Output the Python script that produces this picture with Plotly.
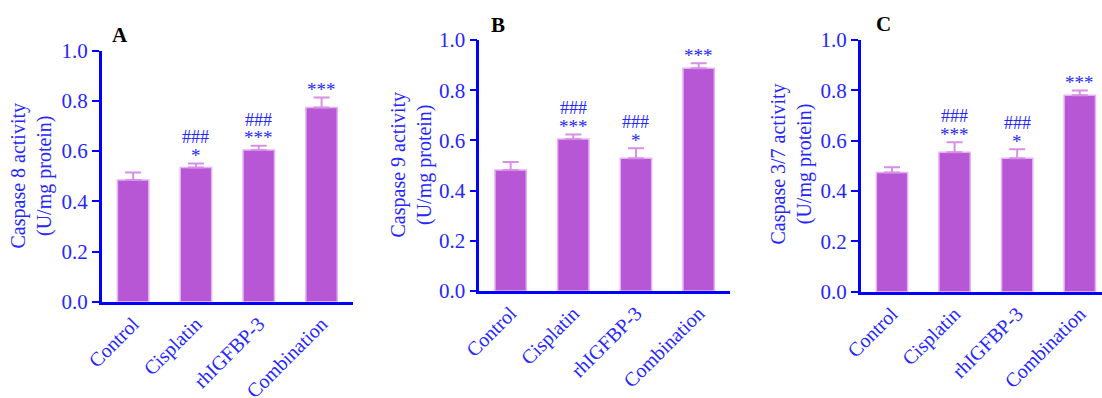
import plotly.graph_objects as go

# Treatment groups shared by all three panels
groups = ["Control", "Cisplatin", "rhIGFBP-3", "Combination"]

# Caspase 8 activity (U/mg protein): mean and SEM
casp8_mean = [0.485, 0.535, 0.604, 0.774]
casp8_sem = [0.030, 0.016, 0.017, 0.040]

# Caspase 9 activity (U/mg protein): mean and SEM
casp9_mean = [0.482, 0.606, 0.529, 0.887]
casp9_sem = [0.032, 0.018, 0.040, 0.020]

# Caspase 3/7 activity (U/mg protein): mean and SEM
casp37_mean = [0.474, 0.554, 0.530, 0.780]
casp37_sem = [0.020, 0.040, 0.036, 0.019]

# Significance marks: vs control (*) and vs combination (#)
casp8_star = ["", "*", "***", "***"]
casp8_hash = ["", "###", "###", ""]
casp9_star = ["", "***", "*", "***"]
casp9_hash = ["", "###", "###", ""]
casp37_star = ["", "***", "*", "***"]
casp37_hash = ["", "###", "###", ""]

W, H = 1102, 398
SERIF = "Liberation Serif, Times New Roman, serif"
BLUE_TXT = "#2626ff"
BLUE_AX = "#0000ff"
BAR_FILL = "#b857d6"
BAR_EDGE = "#e8b2f2"
ERR_COL = "#d690e4"


def px_x(v):
    return v / W


def px_y(v):
    return 1 - v / H


panels = [
    dict(mean=casp8_mean, sem=casp8_sem, star=casp8_star, hsh=casp8_hash,
         ytitle="Caspase 8 activity<br>(U/mg protein)", letter="A",
         dom_x=(101.7, 353.0), dom_y=(50.7, 301.7), xr=[-0.5, 3.5],
         title_pos=(30.5, 176), letter_pos=(120, 35)),
    dict(mean=casp9_mean, sem=casp9_sem, star=casp9_star, hsh=casp9_hash,
         ytitle="Caspase 9 activity<br>(U/mg protein)", letter="B",
         dom_x=(479.3, 730.0), dom_y=(40.0, 291.0), xr=[-0.5, 3.5],
         title_pos=(410.5, 164), letter_pos=(498, 25)),
    dict(mean=casp37_mean, sem=casp37_sem, star=casp37_star, hsh=casp37_hash,
         ytitle="Caspase 3/7 activity<br>(U/mg protein)", letter="C",
         dom_x=(860.7, 1102.0), dom_y=(40.0, 291.7), xr=[-0.5, 3.355],
         title_pos=(790.5, 164), letter_pos=(883, 24)),
]

fig = go.Figure()
annotations = []
layout_axes = {}

for k, p in enumerate(panels, start=1):
    sfx = "" if k == 1 else str(k)
    xa, ya = "x" + sfx, "y" + sfx
    fig.add_trace(go.Bar(
        x=groups, y=p["mean"], xaxis=xa, yaxis=ya, width=0.5,
        marker=dict(color=BAR_FILL, line=dict(color=BAR_EDGE, width=1.5)),
        error_y=dict(type="data", array=p["sem"], arrayminus=[0] * len(groups),
                     symmetric=False, color=ERR_COL, thickness=2, width=8),
        showlegend=False, cliponaxis=False,
    ))

    layout_axes["xaxis" + sfx] = dict(
        domain=[px_x(p["dom_x"][0]), px_x(p["dom_x"][1])], anchor=ya,
        type="category", range=p["xr"], showline=True, linecolor=BLUE_AX,
        linewidth=2.5, ticks="", tickangle=-45, showgrid=False, zeroline=False,
        automargin=False,
        tickfont=dict(family=SERIF, size=20, color=BLUE_TXT),
    )
    layout_axes["yaxis" + sfx] = dict(
        domain=[px_y(p["dom_y"][1]), px_y(p["dom_y"][0])], anchor=xa,
        range=[0, 1.0], showline=True, linecolor=BLUE_AX, linewidth=2.5,
        ticks="outside", ticklen=7, tickwidth=2, tickcolor=BLUE_AX,
        tickvals=[0, 0.2, 0.4, 0.6, 0.8, 1.0], tickformat=".1f",
        showgrid=False, zeroline=False, automargin=False,
        tickfont=dict(family=SERIF, size=21, color=BLUE_TXT),
    )

    # axis title as a rotated two-line label
    annotations.append(dict(
        text=p["ytitle"], xref="paper", yref="paper",
        x=px_x(p["title_pos"][0]), y=px_y(p["title_pos"][1]),
        xanchor="center", yanchor="middle", textangle=-90, showarrow=False,
        font=dict(family=SERIF, size=20, color=BLUE_TXT),
    ))
    # panel letter
    annotations.append(dict(
        text="<b>%s</b>" % p["letter"], xref="paper", yref="paper",
        x=px_x(p["letter_pos"][0]), y=px_y(p["letter_pos"][1]),
        xanchor="center", yanchor="middle", showarrow=False,
        font=dict(family=SERIF, size=21, color="black"),
    ))
    # significance marks above the error bars
    for g, m, s, st, hs in zip(groups, p["mean"], p["sem"], p["star"], p["hsh"]):
        top = m + s
        if st:
            annotations.append(dict(
                text=st, x=g, y=top, xref=xa, yref=ya, showarrow=False,
                xanchor="center", yanchor="middle", yshift=8,
                font=dict(family=SERIF, size=19, color=BLUE_TXT),
            ))
        if hs:
            annotations.append(dict(
                text=hs, x=g, y=top, xref=xa, yref=ya, showarrow=False,
                xanchor="center", yanchor="middle", yshift=26,
                font=dict(family=SERIF, size=18, color=BLUE_TXT),
            ))

fig.update_layout(
    width=W, height=H, margin=dict(l=0, r=0, t=0, b=0),
    paper_bgcolor="white", plot_bgcolor="white",
    annotations=annotations, bargap=0.5, **layout_axes,
)

fig.write_html("out.html")
